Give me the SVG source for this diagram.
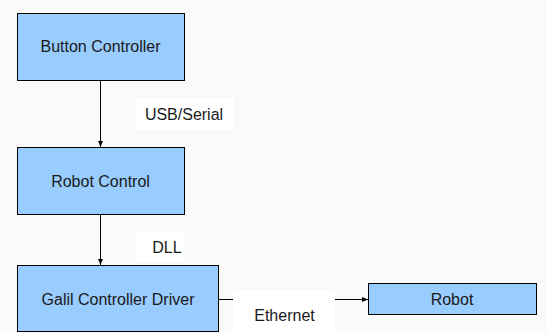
<svg xmlns="http://www.w3.org/2000/svg" width="547" height="333" viewBox="0 0 547 333">
  <style>
    .box { fill: #99ccff; stroke: #000; stroke-width: 1; }
    .lbl { font-family: "Liberation Sans", Arial, sans-serif; font-size: 16px; fill: #1a1a1a; text-anchor: middle; }
    .conn { stroke: #000; stroke-width: 1; fill: none; }
    .lblbg { fill: #ffffff; stroke: none; }
  </style>
  <defs>
    <marker id="arrow" viewBox="0 0 10 10" refX="10" refY="5" markerWidth="6" markerHeight="6" markerUnits="userSpaceOnUse" orient="auto">
      <path d="M0,1 L10,5 L0,9 Z" fill="#000"/>
    </marker>
  </defs>
  <rect x="0" y="0" width="547" height="333" fill="#fafafa"/>

  <g id="connectors">
    <line class="conn" x1="100.5" y1="80" x2="100.5" y2="147" marker-end="url(#arrow)"/>
    <rect class="lblbg" x="136" y="98" width="98" height="32"/>
    <text class="lbl" x="184" y="120">USB/Serial</text>

    <line class="conn" x1="100.5" y1="214" x2="100.5" y2="265" marker-end="url(#arrow)"/>
    <rect class="lblbg" x="136" y="232" width="48" height="30"/>
    <text class="lbl" x="167" y="253">DLL</text>

    <line class="conn" x1="218" y1="299.5" x2="368" y2="299.5" marker-end="url(#arrow)"/>
    <rect class="lblbg" x="233" y="290" width="102" height="43"/>
    <text class="lbl" x="284.5" y="321">Ethernet</text>
  </g>

  <g id="button-controller">
    <rect class="box" x="17.5" y="13.5" width="167" height="67"/>
    <text class="lbl" x="100.5" y="52">Button Controller</text>
  </g>

  <g id="robot-control">
    <rect class="box" x="17.5" y="147.5" width="167" height="67"/>
    <text class="lbl" x="100.5" y="187">Robot Control</text>
  </g>

  <g id="galil-controller-driver">
    <rect class="box" x="17.5" y="265.5" width="201" height="66"/>
    <text class="lbl" x="118" y="305">Galil Controller Driver</text>
  </g>

  <g id="robot">
    <rect class="box" x="368.5" y="283.5" width="168" height="31"/>
    <text class="lbl" x="452" y="305">Robot</text>
  </g>
</svg>
